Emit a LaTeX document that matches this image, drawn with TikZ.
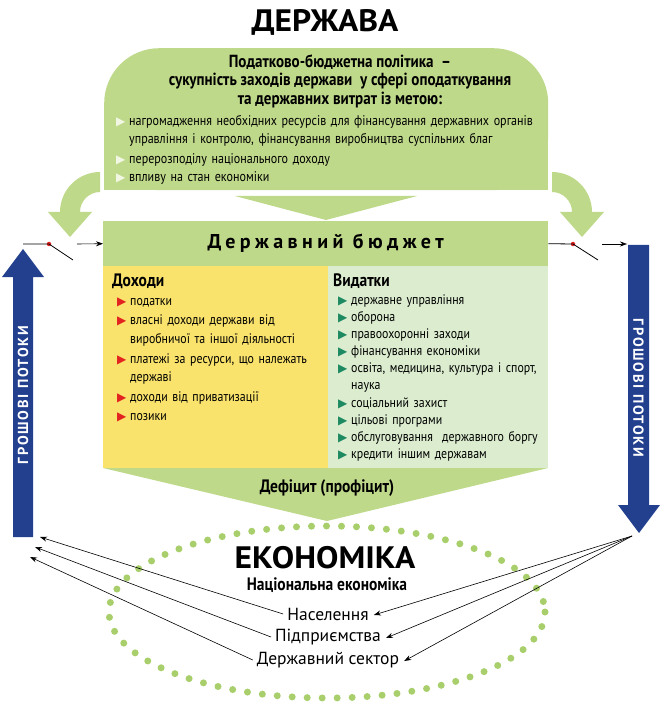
\documentclass[tikz,border=0pt]{standalone}
\usepackage{fontspec}
\usepackage{graphicx}
\setmainfont{PT Sans}
\newfontfamily\condensed[FakeStretch=0.86]{PT Sans}
\newfontfamily\widefont[FakeStretch=1.08]{PT Sans}
\newfontfamily\symfont{DejaVu Sans}
\usetikzlibrary{positioning,arrows.meta}

\definecolor{leafgreen}{HTML}{BFD98A}
\definecolor{paleyellow}{HTML}{FAE36C}
\definecolor{palegreen}{HTML}{DCEDCF}
\definecolor{flowblue}{HTML}{23408F}
\definecolor{tipred}{HTML}{E3231F}
\definecolor{tipgreen}{HTML}{1E8A62}
\definecolor{tipwhite}{HTML}{F2F7E4}
\definecolor{dotgreen}{HTML}{A8CF6B}

% bullet line, continuation lines under the text
\newcommand{\bul}[2]{\par\noindent\hspace*{5pt}%
  \makebox[13pt][l]{\textcolor{#1}{\symfont\fontsize{12}{12}\selectfont ▶}}%
  \begin{tabular}[t]{@{}l@{}}#2\end{tabular}}

\begin{document}
\begin{tikzpicture}[x=1pt,y=-1pt,
  panel/.style={fill=leafgreen,draw=none},
  bigtitle/.style={font=\widefont\bfseries\fontsize{31}{31}\selectfont},
  listtext/.style={anchor=north west,align=left,font=\condensed\fontsize{13.8}{18.8}\selectfont},
  sector/.style={font=\fontsize{17.5}{17.5}\selectfont},
  flowtext/.style={text=white,font=\bfseries\fontsize{14.5}{14.5}\selectfont\addfontfeature{LetterSpace=12}},
  flowarrow/.style={-{Stealth[length=7pt,width=5pt]},black,line width=0.6pt},
  thinline/.style={black,line width=0.8pt}]
\tikzstyle{every node}+=[inner sep=0pt]
\useasboundingbox (0,0) rectangle (667,708);

% --- state
\node[bigtitle] (state) at (325,22) {ДЕРЖАВА};
\node[panel,rounded corners=55pt,minimum width=444,minimum height=142,anchor=north west] (policy) at (104,48) {};
\fill[leafgreen] (policy.west) rectangle (policy.south east);
\node[align=center,font=\condensed\bfseries\fontsize{17.5}{18.6}\selectfont] (policyhead) at (340,81)
  {Податково-бюджетна політика \ –\\ сукупність заходів держави \ у сфері оподаткування\\ та державних витрат із метою:};
\node[listtext,text width=440,font=\condensed\fontsize{14}{18.4}\selectfont] (goals) at (111,107) {%
  \bul{tipwhite}{нагромадження необхідних ресурсів для фінансування державних органів\\управління і контролю, фінансування виробництва суспільних благ}
  \bul{tipwhite}{перерозподілу національного доходу}
  \bul{tipwhite}{впливу на стан економіки}};

% curved green arrows and middle wedge
\fill[leafgreen] (100,172) .. controls (78,172) and (60,190) .. (60,212) -- (48,212) -- (70,237)
  -- (92,212) -- (80,212) .. controls (80,201) and (89,192) .. (100,192) -- cycle;
\fill[leafgreen] (552,172) .. controls (574,172) and (592,190) .. (592,212) -- (604,212) -- (582,237)
  -- (560,212) -- (572,212) .. controls (572,201) and (563,192) .. (552,192) -- cycle;
\fill[leafgreen] (235,196) -- (417,196) -- (326,220) -- cycle;

% --- budget
\node[panel,minimum width=445,minimum height=45,anchor=north west,
  font=\bfseries\fontsize{20}{20}\selectfont\addfontfeature{LetterSpace=22}] (budget) at (103,221) {Державний бюджет};
\fill[paleyellow] (103,266) rectangle (328,468);
\fill[palegreen] (328,266) rectangle (548,468);
\fill[leafgreen] (103,468) -- (548,468) -- (327,521) -- cycle;
\node[font=\condensed\bfseries\fontsize{18}{18}\selectfont] (deficit) at (327,488) {Дефіцит (профіцит)};

\node[listtext,text width=215] (income) at (112,274) {%
  {\bfseries\fontsize{18}{19}\selectfont Доходи}
  \bul{tipred}{податки}
  \bul{tipred}{власні доходи держави від\\виробничої та іншої діяльності}
  \bul{tipred}{платежі за ресурси, що належать\\державі}
  \bul{tipred}{доходи від приватизації}
  \bul{tipred}{позики}};
\node[listtext,text width=215,font=\condensed\fontsize{13.8}{17.1}\selectfont] (spending) at (333,274) {%
  {\bfseries\fontsize{18}{19}\selectfont Видатки}
  \bul{tipgreen}{державне управління}
  \bul{tipgreen}{оборона}
  \bul{tipgreen}{правоохоронні заходи}
  \bul{tipgreen}{фінансування економіки}
  \bul{tipgreen}{освіта, медицина, культура і спорт,\\наука}
  \bul{tipgreen}{соціальний захист}
  \bul{tipgreen}{цільові програми}
  \bul{tipgreen}{обслуговування \ державного боргу}
  \bul{tipgreen}{кредити іншим державам}};

% --- switches
\coordinate (lsw0) at (23,244);
\node[circle,fill=tipred,minimum size=4.5] (lpivot) at (49,244) {};
\coordinate (lsw1) at (73,260);
\coordinate (lin) at (77,244);
\draw[thinline] (lsw0) -- (lpivot.center) -- (lsw1);
\draw[flowarrow] (lin) -- (budget.west);
\node[circle,fill=tipred,minimum size=4.5] (rpivot) at (573,244) {};
\coordinate (rsw1) at (598,260);
\coordinate (rout) at (602,244);
\coordinate (rflowtop) at (627,244);
\draw[thinline] (budget.east) -- (rpivot.center) -- (rsw1);
\draw[flowarrow] (rout) -- (rflowtop);

% --- money flows
\fill[flowblue] (13,537) -- (13,277) -- (2,277) -- (23,249) -- (44,277) -- (33,277) -- (33,537) -- cycle;
\node[flowtext,rotate=90] (lflow) at (23,395) {ГРОШОВІ ПОТОКИ};
\fill[flowblue] (628,245) -- (649,245) -- (649,505) -- (660,505) -- (639,533) -- (618,505) -- (628,505) -- cycle;
\node[flowtext,rotate=-90] (rflow) at (638.5,388) {ГРОШОВІ ПОТОКИ};

% --- economy
\draw[dotgreen,line width=7pt,dash pattern=on 0pt off 15pt,line cap=round] (327,612) ellipse [x radius=218,y radius=86];
\node[bigtitle] (economy) at (325,558) {ЕКОНОМІКА};
\node[font=\condensed\bfseries\fontsize{18}{18}\selectfont] (nateco) at (327,585) {Національна економіка};
\node[sector] (households) at (328,614) {Населення};
\node[sector] (firms) at (328,637) {Підприємства};
\node[sector] (govsector) at (328,660) {Державний сектор};

\coordinate (lend1) at (40,537);
\coordinate (lend2) at (35,547);
\coordinate (lend3) at (30,557);
\coordinate (rfan) at (632,536);
\draw[flowarrow] ([xshift=-4pt]households.west) -- (lend1);
\draw[flowarrow] ([xshift=-4pt]firms.west) -- (lend2);
\draw[flowarrow] ([xshift=-4pt]govsector.west) -- (lend3);
\draw[flowarrow] (rfan) -- ([xshift=5pt,yshift=-1pt]households.east);
\draw[flowarrow] (rfan) -- ([xshift=5pt,yshift=-1pt]firms.east);
\draw[flowarrow] (rfan) -- ([xshift=5pt,yshift=-1pt]govsector.east);
\end{tikzpicture}
\end{document}
